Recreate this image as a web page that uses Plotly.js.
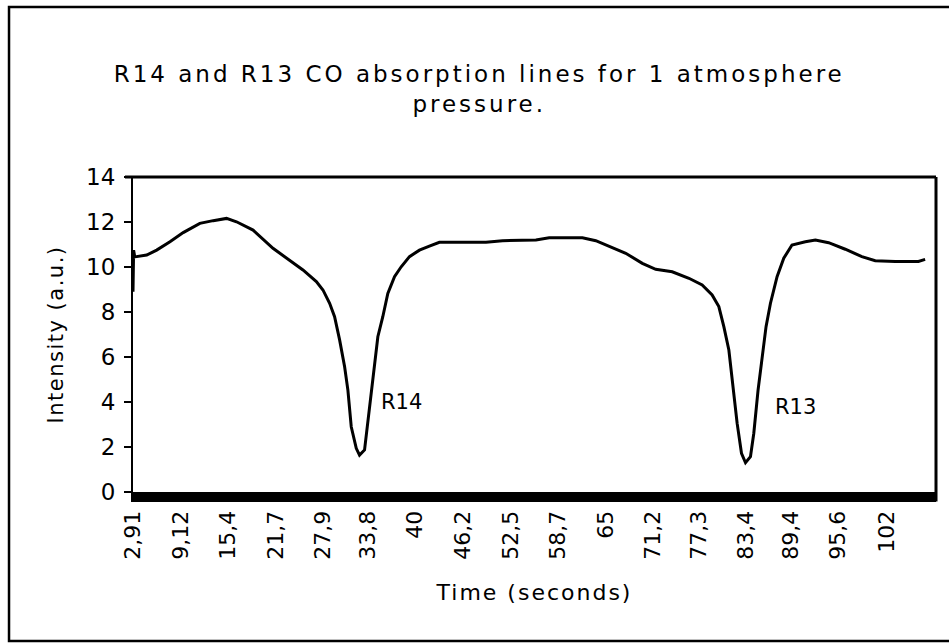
<!DOCTYPE html>
<html>
<head>
<meta charset="utf-8">
<script src="https://cdn.plot.ly/plotly-3.0.1.min.js"></script>
<style>
  html, body { margin: 0; padding: 0; background: #ffffff; }
  #chart { width: 949px; height: 644px; }
  .gtitle { letter-spacing: 3px; }
  .xtitle { letter-spacing: 2px; }
  .ytitle { letter-spacing: 1.5px; }
</style>
</head>
<body>
<div id="chart"></div>
<script>
// ---- data ----
const timeSeconds = [2.87, 2.95, 3.1, 4.67, 5.98, 7.73, 9.47, 11.66, 13.41, 15.17, 16.48, 18.66, 21.28, 23.04,
  25.22, 26.98, 27.85, 28.73, 29.38, 30.04, 30.70, 31.13, 31.57, 32.23, 32.66, 33.32, 33.75, 34.20, 34.63,
  35.07, 35.72, 36.38, 37.26, 38.14, 39.23, 40.54, 41.85, 43.16, 46.0, 49.29, 51.47, 55.86, 57.60, 61.97,
  63.73, 65.48, 67.67, 69.85, 71.61, 73.78, 75.98, 77.72, 79.03, 79.91, 80.57, 81.23, 81.75, 82.32, 82.89,
  83.42, 84.07, 84.51, 85.07, 85.60, 86.12, 86.70, 87.57, 88.45, 89.53, 91.29, 92.61, 94.35, 96.54, 98.72,
  100.48, 103.11, 106.16, 107.04];
const intensity = [8.9, 10.75, 10.45, 10.53, 10.75, 11.12, 11.53, 11.94, 12.06, 12.16, 12.01, 11.64, 10.83, 10.39,
  9.87, 9.35, 8.98, 8.39, 7.79, 6.76, 5.57, 4.53, 2.90, 1.94, 1.64, 1.87, 3.05, 4.53, 5.72,
  6.90, 7.79, 8.83, 9.57, 10.01, 10.46, 10.75, 10.93, 11.1, 11.1, 11.1, 11.17, 11.2, 11.3, 11.3,
  11.17, 10.93, 10.61, 10.16, 9.90, 9.79, 9.50, 9.2, 8.76, 8.24, 7.35, 6.31, 4.83, 3.05, 1.72,
  1.30, 1.57, 2.61, 4.53, 6.01, 7.35, 8.39, 9.57, 10.39, 10.98, 11.12, 11.2, 11.08, 10.79, 10.46,
  10.28, 10.25, 10.25, 10.34];

const xTickValues = [2.91, 9.12, 15.4, 21.7, 27.9, 33.8, 40, 46.2, 52.5, 58.7, 65, 71.2, 77.3, 83.4, 89.4, 95.6, 102];
const xTickLabels = ["2,91", "9,12", "15,4", "21,7", "27,9", "33,8", "40", "46,2", "52,5", "58,7", "65", "71,2", "77,3", "83,4", "89,4", "95,6", "102"];

const lineLabels = ["R14", "R13"];
const lineLabelX = [35.2, 87.0];
const lineLabelY = [4.0, 3.8];

const FONT = "DejaVu Sans, Arial, sans-serif";

const trace = {
  x: timeSeconds,
  y: intensity,
  type: "scatter",
  mode: "lines",
  line: { color: "#000000", width: 3 },
  hoverinfo: "skip",
  showlegend: false
};

const annotations = lineLabels.map((t, i) => ({
  x: lineLabelX[i], y: lineLabelY[i], xref: "x", yref: "y",
  text: t, showarrow: false, xanchor: "left", yanchor: "middle",
  font: { family: FONT, size: 21, color: "#000000" }
}));

const layout = {
  width: 949,
  height: 644,
  paper_bgcolor: "#ffffff",
  plot_bgcolor: "#ffffff",
  margin: { l: 133, r: 13, t: 177, b: 152 },
  font: { family: FONT, color: "#000000" },
  title: {
    text: "R14 and R13 CO absorption lines for 1 atmosphere<br>pressure.",
    font: { family: FONT, size: 23, color: "#000000" },
    x: 0.505, xref: "container", xanchor: "center",
    y: 0.872, yref: "container", yanchor: "middle"
  },
  xaxis: {
    type: "linear",
    range: [2.87, 108.47],
    tickmode: "array",
    tickvals: xTickValues,
    ticktext: xTickLabels,
    tickangle: -90,
    tickfont: { family: FONT, size: 22, color: "#000000" },
    ticks: "",
    showgrid: false,
    zeroline: false,
    showline: true,
    linecolor: "#000000",
    linewidth: 10,
    title: { text: "Time (seconds)", font: { family: FONT, size: 22, color: "#000000" }, standoff: 30 },
    fixedrange: true
  },
  yaxis: {
    range: [0, 14],
    tickmode: "linear",
    tick0: 0,
    dtick: 2,
    ticks: "outside",
    ticklen: 7,
    tickwidth: 2,
    tickcolor: "#000000",
    tickfont: { family: FONT, size: 23, color: "#000000" },
    ticklabelstandoff: 4,
    showgrid: false,
    zeroline: false,
    showline: true,
    linecolor: "#000000",
    linewidth: 2,
    title: { text: "Intensity (a.u.)", font: { family: FONT, size: 21, color: "#000000" }, standoff: 17 },
    fixedrange: true
  },
  shapes: [
    // plot-area top and right border
    { type: "line", xref: "paper", yref: "paper", x0: -0.01, x1: 1.0, y0: 1, y1: 1,
      line: { color: "#000000", width: 3 } },
    { type: "line", xref: "paper", yref: "paper", x0: 1.0, x1: 1.0, y0: 1, y1: -0.03,
      line: { color: "#000000", width: 3 } },
    // outer chart frame (right side runs off the picture, as in the reference)
    { type: "rect", xref: "paper", yref: "paper", x0: -0.1544, x1: 1.06, y0: -0.473, y1: 1.5397,
      line: { color: "#000000", width: 2.5 }, fillcolor: "rgba(0,0,0,0)" }
  ],
  annotations: annotations
};

Plotly.newPlot("chart", [trace], layout, { displayModeBar: false, staticPlot: true });
</script>
</body>
</html>
